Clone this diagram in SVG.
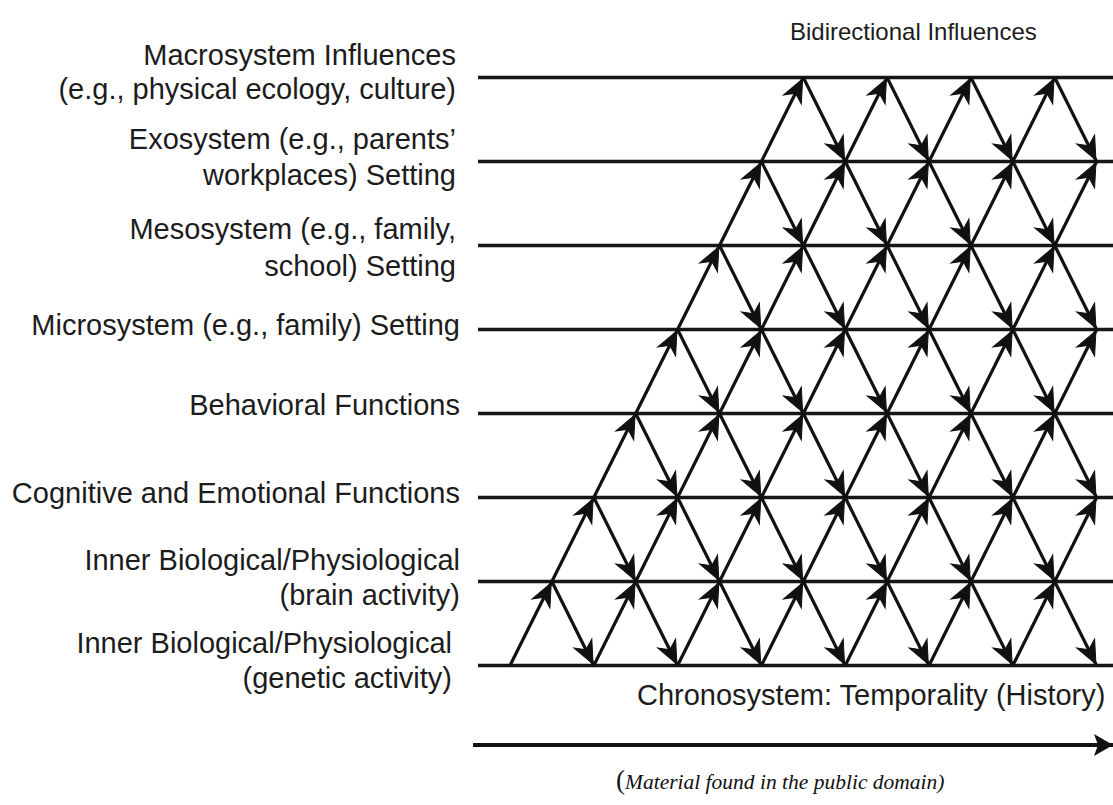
<svg xmlns="http://www.w3.org/2000/svg" xmlns:xlink="http://www.w3.org/1999/xlink" width="1113" height="805" viewBox="0 0 1113 805">
  <style>
    .lbl { font-family: "Liberation Sans", Arial, sans-serif; font-size: 29px; fill: #1c1c1c; text-anchor: end; }
    .cap { font-family: "Liberation Sans", Arial, sans-serif; fill: #1c1c1c; }
    .level { stroke: #161616; stroke-width: 3.4; fill: none; }
    .edge { stroke: #111; stroke-width: 3.2; fill: none; marker-end: url(#head); }
    .note { font-family: "Liberation Serif", "Times New Roman", serif; fill: #111; }
  </style>
  <defs>
    <marker id="head" markerUnits="userSpaceOnUse" markerWidth="26" markerHeight="24" viewBox="-26 -12 26 24" refX="1.5" refY="0" orient="auto" overflow="visible">
      <path d="M0,0 L-23,-10 L-16,0 L-23,10 Z" fill="#111" stroke="#111" stroke-width="1" stroke-linejoin="miter"/>
    </marker>
    <marker id="bighead" markerUnits="userSpaceOnUse" markerWidth="20" markerHeight="24" viewBox="-19 -12 19 24" refX="0" refY="0" orient="auto" overflow="visible">
      <path d="M0,0 L-19,-11 L-15,0 L-19,11 Z" fill="#111"/>
    </marker>
    <!-- one lattice edge each way: upward (arrow at top), downward (arrow at bottom) -->
    <line id="up" class="edge" x1="0" y1="0" x2="41.9" y2="-84"/>
    <line id="dn" class="edge" x1="0" y1="0" x2="41.9" y2="84"/>
  </defs>

  <rect width="1113" height="805" fill="#fff"/>

  <text id="title" class="cap" x="790" y="40" font-size="24">Bidirectional Influences</text>

  <!-- system levels: label + horizontal line -->
  <g id="macrosystem">
    <text class="lbl" x="456" y="65">Macrosystem Influences</text>
    <text class="lbl" x="456" y="99">(e.g., physical ecology, culture)</text>
    <line class="level" x1="478" y1="77.5" x2="1113" y2="77.5"/>
  </g>
  <g id="exosystem">
    <text class="lbl" x="456" y="149">Exosystem (e.g., parents’</text>
    <text class="lbl" x="456" y="185">workplaces) Setting</text>
    <line class="level" x1="478" y1="161.5" x2="1113" y2="161.5"/>
  </g>
  <g id="mesosystem">
    <text class="lbl" x="456" y="239">Mesosystem (e.g., family,</text>
    <text class="lbl" x="456" y="276">school) Setting</text>
    <line class="level" x1="478" y1="245.5" x2="1113" y2="245.5"/>
  </g>
  <g id="microsystem">
    <text class="lbl" x="460" y="335">Microsystem (e.g., family) Setting</text>
    <line class="level" x1="478" y1="329.5" x2="1113" y2="329.5"/>
  </g>
  <g id="behavioral">
    <text class="lbl" x="460" y="415">Behavioral Functions</text>
    <line class="level" x1="478" y1="413.5" x2="1113" y2="413.5"/>
  </g>
  <g id="cognitive">
    <text class="lbl" x="460" y="503">Cognitive and Emotional Functions</text>
    <line class="level" x1="478" y1="497.5" x2="1113" y2="497.5"/>
  </g>
  <g id="brain">
    <text class="lbl" x="460" y="570">Inner Biological/Physiological</text>
    <text class="lbl" x="460" y="605">(brain activity)</text>
    <line class="level" x1="478" y1="581.5" x2="1113" y2="581.5"/>
  </g>
  <g id="genetic">
    <text class="lbl" x="452" y="653">Inner Biological/Physiological</text>
    <text class="lbl" x="452" y="688">(genetic activity)</text>
    <line class="level" x1="478" y1="665.5" x2="1113" y2="665.5"/>
  </g>

  <!-- bidirectional influences between adjacent levels -->
  <g id="connectors">
    <!-- genetic -> brain -->
    <use xlink:href="#up" x="510" y="665.5"/>
    <use xlink:href="#up" x="593.8" y="665.5"/>
    <use xlink:href="#up" x="677.6" y="665.5"/>
    <use xlink:href="#up" x="761.4" y="665.5"/>
    <use xlink:href="#up" x="845.2" y="665.5"/>
    <use xlink:href="#up" x="929" y="665.5"/>
    <use xlink:href="#up" x="1012.8" y="665.5"/>
    <use xlink:href="#dn" x="551.9" y="581.5"/>
    <use xlink:href="#dn" x="635.7" y="581.5"/>
    <use xlink:href="#dn" x="719.5" y="581.5"/>
    <use xlink:href="#dn" x="803.3" y="581.5"/>
    <use xlink:href="#dn" x="887.1" y="581.5"/>
    <use xlink:href="#dn" x="970.9" y="581.5"/>
    <use xlink:href="#dn" x="1054.7" y="581.5"/>
    <!-- brain -> cognitive -->
    <use xlink:href="#up" x="551.9" y="581.5"/>
    <use xlink:href="#up" x="635.7" y="581.5"/>
    <use xlink:href="#up" x="719.5" y="581.5"/>
    <use xlink:href="#up" x="803.3" y="581.5"/>
    <use xlink:href="#up" x="887.1" y="581.5"/>
    <use xlink:href="#up" x="970.9" y="581.5"/>
    <use xlink:href="#up" x="1054.7" y="581.5"/>
    <use xlink:href="#dn" x="593.8" y="497.5"/>
    <use xlink:href="#dn" x="677.6" y="497.5"/>
    <use xlink:href="#dn" x="761.4" y="497.5"/>
    <use xlink:href="#dn" x="845.2" y="497.5"/>
    <use xlink:href="#dn" x="929" y="497.5"/>
    <use xlink:href="#dn" x="1012.8" y="497.5"/>
    <!-- cognitive -> behavioral -->
    <use xlink:href="#up" x="593.8" y="497.5"/>
    <use xlink:href="#up" x="677.6" y="497.5"/>
    <use xlink:href="#up" x="761.4" y="497.5"/>
    <use xlink:href="#up" x="845.2" y="497.5"/>
    <use xlink:href="#up" x="929" y="497.5"/>
    <use xlink:href="#up" x="1012.8" y="497.5"/>
    <use xlink:href="#dn" x="635.7" y="413.5"/>
    <use xlink:href="#dn" x="719.5" y="413.5"/>
    <use xlink:href="#dn" x="803.3" y="413.5"/>
    <use xlink:href="#dn" x="887.1" y="413.5"/>
    <use xlink:href="#dn" x="970.9" y="413.5"/>
    <use xlink:href="#dn" x="1054.7" y="413.5"/>
    <!-- behavioral -> microsystem -->
    <use xlink:href="#up" x="635.7" y="413.5"/>
    <use xlink:href="#up" x="719.5" y="413.5"/>
    <use xlink:href="#up" x="803.3" y="413.5"/>
    <use xlink:href="#up" x="887.1" y="413.5"/>
    <use xlink:href="#up" x="970.9" y="413.5"/>
    <use xlink:href="#up" x="1054.7" y="413.5"/>
    <use xlink:href="#dn" x="677.6" y="329.5"/>
    <use xlink:href="#dn" x="761.4" y="329.5"/>
    <use xlink:href="#dn" x="845.2" y="329.5"/>
    <use xlink:href="#dn" x="929" y="329.5"/>
    <use xlink:href="#dn" x="1012.8" y="329.5"/>
    <!-- microsystem -> mesosystem -->
    <use xlink:href="#up" x="677.6" y="329.5"/>
    <use xlink:href="#up" x="761.4" y="329.5"/>
    <use xlink:href="#up" x="845.2" y="329.5"/>
    <use xlink:href="#up" x="929" y="329.5"/>
    <use xlink:href="#up" x="1012.8" y="329.5"/>
    <use xlink:href="#dn" x="719.5" y="245.5"/>
    <use xlink:href="#dn" x="803.3" y="245.5"/>
    <use xlink:href="#dn" x="887.1" y="245.5"/>
    <use xlink:href="#dn" x="970.9" y="245.5"/>
    <use xlink:href="#dn" x="1054.7" y="245.5"/>
    <!-- mesosystem -> exosystem -->
    <use xlink:href="#up" x="719.5" y="245.5"/>
    <use xlink:href="#up" x="803.3" y="245.5"/>
    <use xlink:href="#up" x="887.1" y="245.5"/>
    <use xlink:href="#up" x="970.9" y="245.5"/>
    <use xlink:href="#up" x="1054.7" y="245.5"/>
    <use xlink:href="#dn" x="761.4" y="161.5"/>
    <use xlink:href="#dn" x="845.2" y="161.5"/>
    <use xlink:href="#dn" x="929" y="161.5"/>
    <use xlink:href="#dn" x="1012.8" y="161.5"/>
    <!-- exosystem -> macrosystem -->
    <use xlink:href="#up" x="761.4" y="161.5"/>
    <use xlink:href="#up" x="845.2" y="161.5"/>
    <use xlink:href="#up" x="929" y="161.5"/>
    <use xlink:href="#up" x="1012.8" y="161.5"/>
    <use xlink:href="#dn" x="803.3" y="77.5"/>
    <use xlink:href="#dn" x="887.1" y="77.5"/>
    <use xlink:href="#dn" x="970.9" y="77.5"/>
    <use xlink:href="#dn" x="1054.7" y="77.5"/>
  </g>

  <!-- time axis -->
  <g id="chronosystem">
    <text class="cap" x="637" y="705" font-size="29">Chronosystem: Temporality (History)</text>
    <line x1="473" y1="745" x2="1113" y2="745" stroke="#111" stroke-width="4" marker-end="url(#bighead)"/>
  </g>

  <text class="note" x="616" y="789" font-size="21.5"><tspan font-size="27">(</tspan><tspan font-style="italic">Material found in the public domain)</tspan></text>
</svg>
